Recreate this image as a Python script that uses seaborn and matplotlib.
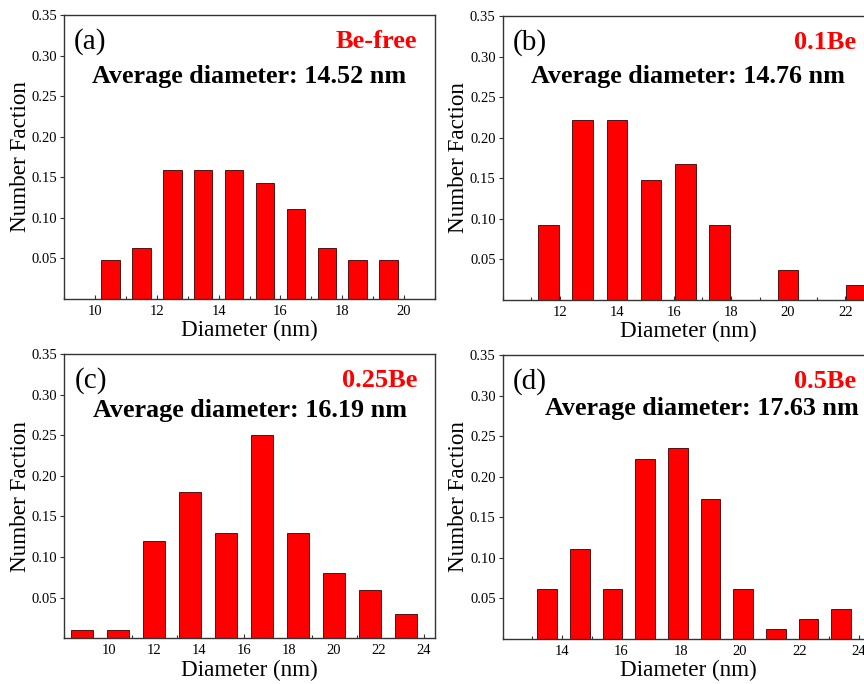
import matplotlib
matplotlib.use("Agg")
import matplotlib.pyplot as plt
import seaborn as sns
import pandas as pd
from matplotlib.ticker import MultipleLocator, FixedLocator

# Panel data: bin centres (nm) and number fraction
a_centers = [10.5, 11.5, 12.5, 13.5, 14.5, 15.5, 16.5, 17.5, 18.5, 19.5]
a_values = [0.048, 0.063, 0.159, 0.159, 0.159, 0.143, 0.111, 0.063, 0.048, 0.048]

b_centers = [11.6, 12.8, 14.0, 15.2, 16.4, 17.6, 20.0, 22.4]
b_values = [0.093, 0.222, 0.222, 0.148, 0.167, 0.093, 0.037, 0.019]

c_centers = [8.8, 10.4, 12.0, 13.6, 15.2, 16.8, 18.4, 20.0, 21.6, 23.2]
c_values = [0.01, 0.01, 0.12, 0.18, 0.13, 0.25, 0.13, 0.08, 0.06, 0.03]

d_centers = [13.5, 14.6, 15.7, 16.8, 17.9, 19.0, 20.1, 21.2, 22.3, 23.4]
d_values = [0.062, 0.111, 0.062, 0.222, 0.235, 0.173, 0.062, 0.012, 0.025, 0.037]

panel_tags = ["(a)", "(b)", "(c)", "(d)"]
sample_names = ["Be-free", "0.1Be", "0.25Be", "0.5Be"]
avg_labels = ["Average diameter: 14.52 nm", "Average diameter: 14.76 nm",
              "Average diameter: 16.19 nm", "Average diameter: 17.63 nm"]
x_limits = [(9, 21), (10, 23), (8, 24.5), (12, 24.5)]
x_major = [[10, 12, 14, 16, 18, 20], [12, 14, 16, 18, 20, 22],
           [10, 12, 14, 16, 18, 20, 22, 24], [14, 16, 18, 20, 22, 24]]
y_ticks = [0.05, 0.10, 0.15, 0.20, 0.25, 0.30, 0.35]

sns.set_style("ticks")
plt.rcParams["font.family"] = ["Liberation Serif", "DejaVu Serif"]
plt.rcParams["text.color"] = "black"
plt.rcParams["axes.labelcolor"] = "black"
plt.rcParams["xtick.labelcolor"] = "black"
plt.rcParams["ytick.labelcolor"] = "black"

fig = plt.figure(figsize=(8.64, 6.84), dpi=100)

# axes rectangles in figure fraction (right column runs past the figure edge)
rects = [
    [0.0741, 0.5629, 0.4294, 0.4152],
    [0.5818, 0.5614, 0.4294, 0.4152],
    [0.0744, 0.0668, 0.4294, 0.4157],
    [0.5818, 0.0658, 0.4294, 0.4152],
]
data = [(a_centers, a_values), (b_centers, b_values),
        (c_centers, c_values), (d_centers, d_values)]
avg_pos = [(0.50, 0.783), (0.50, 0.786), (0.50, 0.80), (0.536, 0.81)]

for i in range(4):
    ax = fig.add_axes(rects[i])
    centers, values = data[i]
    df = pd.DataFrame({"diameter": centers, "fraction": values})
    sns.barplot(data=df, x="diameter", y="fraction", native_scale=True,
                width=0.6, color="#ff0000", saturation=1,
                edgecolor="#3a0000", linewidth=0.6, ax=ax)

    ax.set_xlim(*x_limits[i])
    ax.set_ylim(0, 0.35)
    ax.xaxis.set_major_locator(FixedLocator(x_major[i]))
    ax.xaxis.set_minor_locator(MultipleLocator(1))
    ax.set_yticks(y_ticks)
    ax.set_yticklabels([f"{v:.2f}" for v in y_ticks])

    ax.tick_params(axis="x", which="major", direction="in", length=3,
                   width=0.8, labelsize=10.5, pad=4, color="#333333")
    ax.tick_params(axis="x", which="minor", direction="in", length=2,
                   width=0.8, color="#333333")
    ax.tick_params(axis="y", which="major", direction="out", length=3,
                   width=0.8, labelsize=10.5, pad=2, color="#333333")
    for sp in ax.spines.values():
        sp.set_color("#333333")
        sp.set_linewidth(1.0)
        sp.set_visible(True)

    ax.set_xlabel("Diameter (nm)", fontsize=16.7, labelpad=2)
    ax.set_ylabel("Number Faction", fontsize=16.7, labelpad=0.5)

    ax.text(0.027, 0.908, panel_tags[i], transform=ax.transAxes,
            fontsize=21, ha="left", va="center")
    ax.text(0.952, 0.905, sample_names[i], transform=ax.transAxes,
            fontsize=19, fontweight="bold", color="#ff0000",
            ha="right", va="center")
    ax.text(avg_pos[i][0], avg_pos[i][1], avg_labels[i], transform=ax.transAxes,
            fontsize=18.8, fontweight="bold", ha="center", va="center")

fig.savefig("out.png", dpi=100)
